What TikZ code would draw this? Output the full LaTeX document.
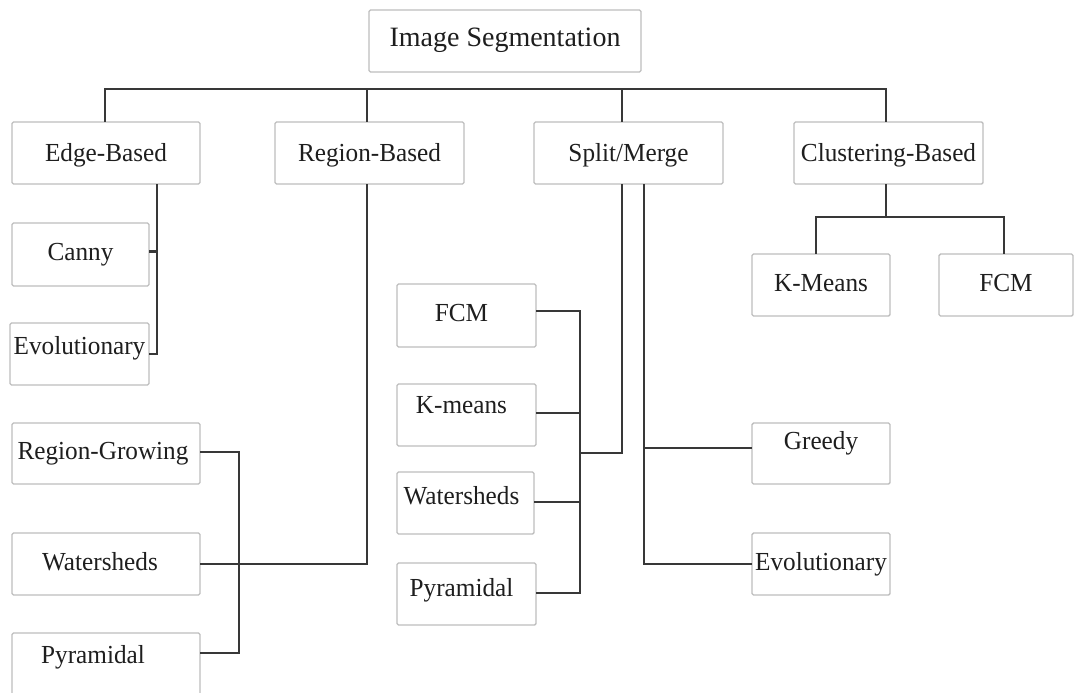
\documentclass[tikz,border=0pt]{standalone}
\usepackage{fontspec}
\setmainfont{Liberation Serif}
\newfontfamily\boxfont{Liberation Serif}[FakeStretch=0.97]
\begin{document}
\begin{tikzpicture}[x=1pt,y=-1pt,
  box/.style={draw=boxgray, line width=1.4pt, rounded corners=1.5pt, inner sep=0pt,
    text=textgray, font=\boxfont\fontsize{26}{30}\selectfont,
    text height=18pt, text depth=6pt},
  conn/.style={draw=linegray, line width=2.2pt, line cap=rect}]
\definecolor{boxgray}{HTML}{BDBDBD}
\definecolor{linegray}{HTML}{383838}
\definecolor{textgray}{HTML}{1E1E1E}
\useasboundingbox (0,0) rectangle (1074,693);
\fill[white] (0,0) rectangle (1074,693);
\begin{scope}
\clip (0,0) rectangle (1074,693);

% root and first level
\node[box, minimum width=272pt, minimum height=62pt, font=\fontsize{28}{32}\selectfont] (root) at (505,41) {Image Segmentation};
\node[box, minimum width=188pt, minimum height=62pt] (edge)    at (106,153)   {\raisebox{-2pt}{Edge-Based}};
\node[box, minimum width=189pt, minimum height=62pt] (region)  at (369.5,153) {\raisebox{-2pt}{Region-Based}};
\node[box, minimum width=189pt, minimum height=62pt] (split)   at (628.5,153) {\raisebox{-2pt}{Split/Merge}};
\node[box, minimum width=189pt, minimum height=62pt] (cluster) at (888.5,153) {\raisebox{-2pt}{Clustering-Based}};

% edge-based children
\node[box, minimum width=137pt, minimum height=63pt] (canny) at (80.5,254.5) {Canny};
\node[box, minimum width=139pt, minimum height=62pt] (evoE)  at (79.5,354)   {\raisebox{6pt}{Evolutionary}};

% region-based children
\node[box, minimum width=188pt, minimum height=61pt] (regG) at (106,453.5) {\kern-6pt Region-Growing};
\node[box, minimum width=188pt, minimum height=62pt] (watL) at (106,564)   {\kern-12pt Watersheds};
\node[box, minimum width=188pt, minimum height=87pt] (pyrL) at (106,676.5) {\kern-26pt\raisebox{19pt}{Pyramidal}};

% split/merge children
\node[box, minimum width=139pt, minimum height=63pt] (fcmS) at (466.5,315.5) {\kern-10pt FCM};
\node[box, minimum width=139pt, minimum height=62pt] (kmS)  at (466.5,415)   {\kern-10pt\raisebox{8pt}{K-means}};
\node[box, minimum width=137pt, minimum height=62pt] (watS) at (465.5,503)   {\kern-8pt\raisebox{5pt}{Watersheds}};
\node[box, minimum width=139pt, minimum height=62pt] (pyrS) at (466.5,594)   {\kern-10pt\raisebox{4pt}{Pyramidal}};
\node[box, minimum width=138pt, minimum height=61pt] (greedy) at (821,453.5) {\raisebox{10pt}{Greedy}};
\node[box, minimum width=138pt, minimum height=62pt] (evoS)   at (821,564)   {Evolutionary};

% clustering children
\node[box, minimum width=138pt, minimum height=62pt] (kmC)  at (821,285)  {K-Means};
\node[box, minimum width=134pt, minimum height=62pt] (fcmC) at (1006,285) {FCM};

% junction points
\coordinate (busL) at (105,89);
\coordinate (busR) at (886,89);
\coordinate (ebar) at (157,354);
\coordinate (rtop) at (239,452);
\coordinate (rbot) at (239,653);
\coordinate (sjoin) at (580,453);
\coordinate (stop) at (580,311);
\coordinate (sbot) at (580,593);
\coordinate (sr) at (644,448);
\coordinate (cbusL) at (816,217);
\coordinate (cbusM) at (886,217);
\coordinate (cbusR) at (1004,217);

% top bus
\draw[conn] (busL |- edge.north) -- (busL) -- (busR) -- (busR |- cluster.north);
\draw[conn] ([xshift=-2.5pt]region.north) -- ([xshift=-2.5pt]region.north |- busL);
\draw[conn] ([xshift=-6.5pt]split.north) -- ([xshift=-6.5pt]split.north |- busL);

% edge-based branch
\draw[conn] (edge.south -| ebar) -- (ebar) -- (evoE.east |- ebar);
\draw[conn] ([yshift=3pt]canny.east) -- ([yshift=3pt]canny.east -| ebar);

% region-based branch
\draw[conn] ([xshift=-2.5pt]region.south) |- (watL.east);
\draw[conn] ([yshift=1.5pt]regG.east) -- (rtop) -- (rbot) -- (rbot -| pyrL.east);

% split/merge branches
\draw[conn] ([xshift=-6.5pt]split.south) |- (sjoin);
\draw[conn] ([yshift=4.5pt]fcmS.east) -- (stop) -- (sbot) -- (sbot -| pyrS.east);
\draw[conn] ([yshift=2pt]kmS.east) -- ([yshift=2pt]kmS.east -| stop);
\draw[conn] ([yshift=1pt]watS.east) -- ([yshift=1pt]watS.east -| stop);
\draw[conn] ([xshift=15.5pt]split.south) |- (evoS.west);
\draw[conn] (sr) -- (sr -| greedy.west);

% clustering branch
\draw[conn] (cbusM |- cluster.south) -- (cbusM);
\draw[conn] (kmC.north -| cbusL) -- (cbusL) -- (cbusR) -- (fcmC.north -| cbusR);
\end{scope}
\end{tikzpicture}
\end{document}
